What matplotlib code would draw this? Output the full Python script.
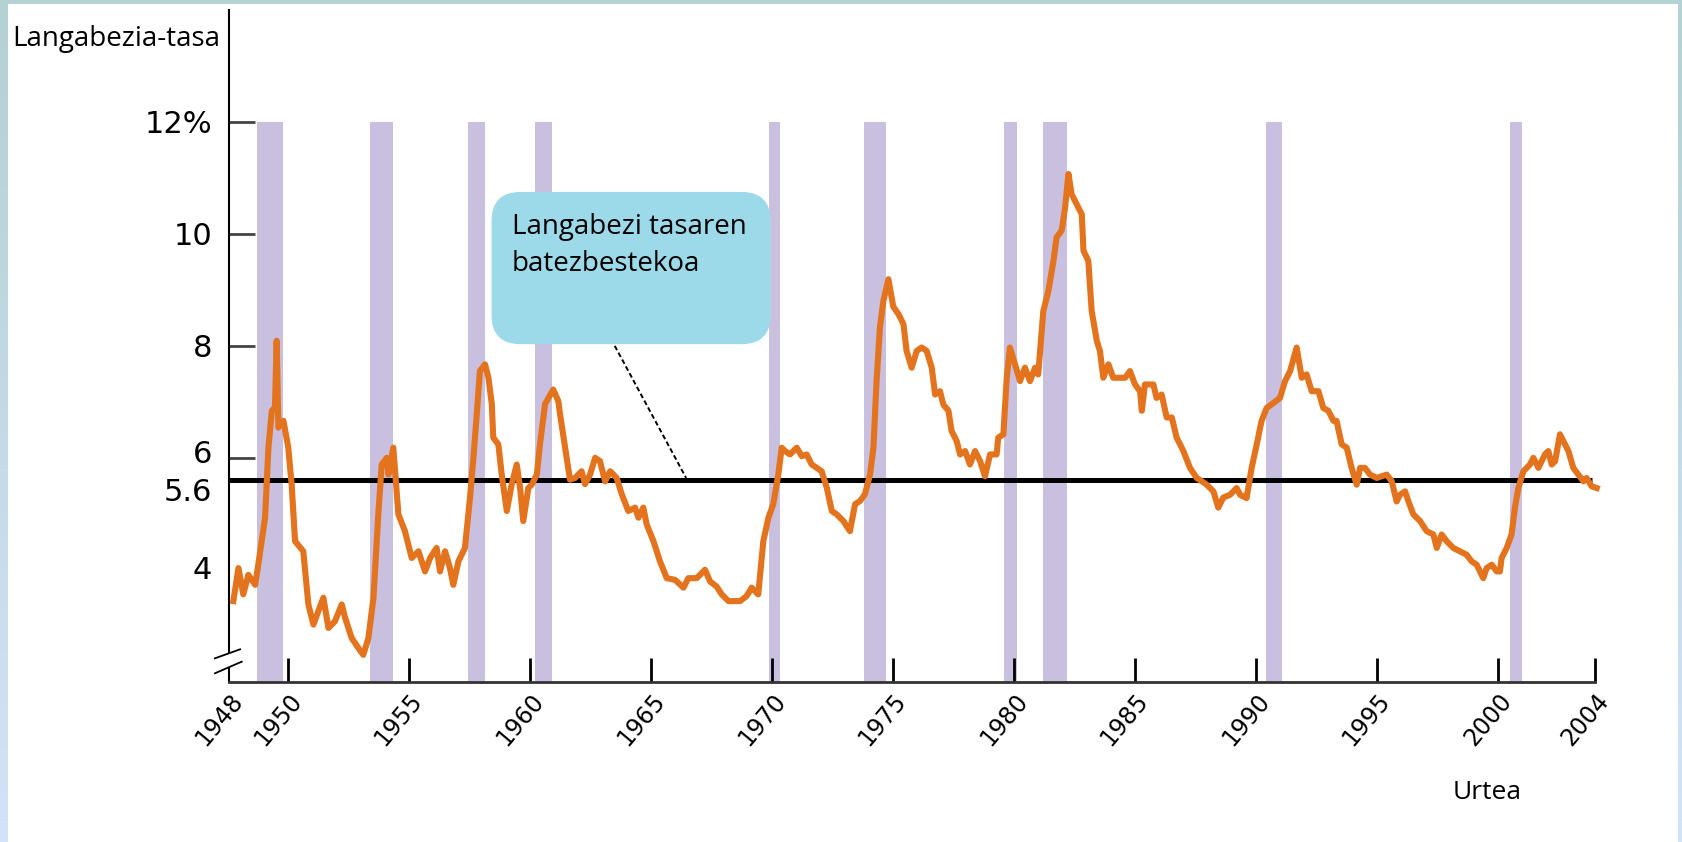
import numpy as np
import matplotlib
matplotlib.use("Agg")
import matplotlib.pyplot as plt
from matplotlib.patches import FancyBboxPatch, Rectangle, Polygon
from matplotlib.transforms import ScaledTranslation

# unemployment rate, (year, rate %)
rate_1948_61 = [
    (1947.74, 3.44), (1947.95, 4.03), (1948.15, 3.56), (1948.36, 3.91), (1948.64, 3.73),
    (1948.77, 4.09), (1949.05, 4.93), (1949.19, 6.18), (1949.33, 6.84), (1949.46, 6.90),
    (1949.53, 8.09), (1949.60, 6.54), (1949.81, 6.66), (1950.01, 6.18), (1950.15, 5.52),
    (1950.29, 4.51), (1950.63, 4.33), (1950.84, 3.38), (1951.05, 3.02), (1951.25, 3.26),
    (1951.46, 3.50), (1951.67, 2.96), (1951.94, 3.08), (1952.22, 3.38), (1952.36, 3.14),
    (1952.63, 2.78), (1952.91, 2.60), (1953.11, 2.48), (1953.32, 2.78), (1953.53, 3.50),
    (1953.73, 4.99), (1953.87, 5.88), (1954.08, 6.00), (1954.15, 5.70), (1954.35, 6.18),
    (1954.56, 4.99), (1954.83, 4.69), (1955.11, 4.21), (1955.39, 4.33), (1955.66, 3.97),
    (1955.87, 4.21), (1956.14, 4.39), (1956.28, 3.97), (1956.49, 4.33), (1956.69, 4.03),
    (1956.83, 3.73), (1957.04, 4.15), (1957.31, 4.39), (1957.52, 5.29), (1957.66, 6.00),
    (1957.80, 6.78), (1957.93, 7.55), (1958.14, 7.67), (1958.28, 7.43), (1958.42, 6.96),
    (1958.48, 6.36), (1958.69, 6.24), (1958.83, 5.70), (1959.04, 5.05), (1959.24, 5.52),
    (1959.45, 5.88), (1959.59, 5.46), (1959.72, 4.87), (1959.93, 5.46), (1960.07, 5.52),
    (1960.28, 5.70), (1960.41, 6.24), (1960.62, 6.96), (1960.96, 7.22), (1961.17, 7.01),
]
rate_1961_75 = [
    (1961.24, 6.78), (1961.45, 6.18), (1961.65, 5.61), (1961.86, 5.64), (1962.13, 5.76),
    (1962.27, 5.53), (1962.48, 5.70), (1962.69, 6.00), (1962.89, 5.94), (1963.10, 5.58),
    (1963.31, 5.76), (1963.58, 5.64), (1963.79, 5.35), (1964.06, 5.05), (1964.34, 5.11),
    (1964.48, 4.93), (1964.68, 5.11), (1964.82, 4.81), (1965.10, 4.51), (1965.37, 4.15),
    (1965.65, 3.85), (1965.99, 3.82), (1966.34, 3.68), (1966.54, 3.85), (1966.89, 3.85),
    (1967.23, 4.00), (1967.44, 3.79), (1967.71, 3.70), (1967.92, 3.56), (1968.20, 3.44),
    (1968.68, 3.44), (1968.95, 3.53), (1969.16, 3.68), (1969.43, 3.56), (1969.64, 4.51),
    (1969.85, 4.93), (1970.05, 5.17), (1970.26, 5.70), (1970.40, 6.18), (1970.54, 6.12),
    (1970.74, 6.06), (1971.02, 6.18), (1971.23, 6.03), (1971.43, 6.06), (1971.64, 5.88),
    (1971.85, 5.82), (1972.05, 5.76), (1972.26, 5.47), (1972.47, 5.05), (1972.67, 4.99),
    (1972.95, 4.87), (1973.22, 4.69), (1973.43, 5.17), (1973.64, 5.23), (1973.84, 5.35),
    (1974.05, 5.70), (1974.19, 6.18), (1974.32, 7.37), (1974.46, 8.33), (1974.60, 8.80),
    (1974.81, 9.19),
]
rate_1975_89 = [
    (1975.01, 8.70), (1975.22, 8.57), (1975.43, 8.39), (1975.56, 7.91), (1975.77, 7.61),
    (1975.98, 7.91), (1976.18, 7.97), (1976.39, 7.91), (1976.60, 7.61), (1976.74, 7.13),
    (1976.94, 7.19), (1977.08, 6.95), (1977.29, 6.84), (1977.42, 6.48), (1977.63, 6.30),
    (1977.77, 6.06), (1977.98, 6.12), (1978.18, 5.88), (1978.39, 6.12), (1978.60, 5.94),
    (1978.80, 5.67), (1979.01, 6.06), (1979.28, 6.06), (1979.35, 6.36), (1979.56, 6.42),
    (1979.70, 7.43), (1979.83, 7.97), (1980.04, 7.67), (1980.25, 7.37), (1980.45, 7.61),
    (1980.66, 7.37), (1980.87, 7.61), (1981.00, 7.49), (1981.21, 8.62), (1981.42, 8.98),
    (1981.63, 9.52), (1981.76, 9.94), (1981.97, 10.06), (1982.11, 10.47), (1982.25, 11.07),
    (1982.38, 10.71), (1982.59, 10.53), (1982.80, 10.35), (1982.87, 9.70), (1983.07, 9.52),
    (1983.21, 8.62), (1983.42, 8.09), (1983.55, 7.91), (1983.69, 7.43), (1983.90, 7.67),
    (1984.10, 7.43), (1984.38, 7.43), (1984.59, 7.43), (1984.79, 7.55), (1985.00, 7.31),
    (1985.21, 7.19), (1985.28, 6.84), (1985.41, 7.31), (1985.76, 7.31), (1985.89, 7.07),
    (1986.10, 7.13), (1986.31, 6.72), (1986.52, 6.72), (1986.72, 6.36), (1987.00, 6.12),
    (1987.27, 5.82), (1987.55, 5.64), (1987.76, 5.58), (1987.96, 5.52), (1988.24, 5.40),
    (1988.44, 5.11), (1988.65, 5.29), (1988.93, 5.34), (1989.20, 5.46),
]
rate_1989_04 = [
    (1989.34, 5.34), (1989.61, 5.28), (1989.82, 5.82), (1990.03, 6.24), (1990.23, 6.66),
    (1990.44, 6.89), (1990.72, 6.98), (1990.99, 7.07), (1991.20, 7.37), (1991.41, 7.55),
    (1991.68, 7.97), (1991.89, 7.43), (1992.09, 7.49), (1992.30, 7.19), (1992.58, 7.19),
    (1992.78, 6.89), (1992.99, 6.84), (1993.20, 6.66), (1993.33, 6.66), (1993.54, 6.24),
    (1993.75, 6.18), (1993.95, 5.82), (1994.16, 5.52), (1994.30, 5.82), (1994.50, 5.82),
    (1994.71, 5.70), (1994.99, 5.64), (1995.40, 5.70), (1995.61, 5.58), (1995.81, 5.22),
    (1995.95, 5.34), (1996.16, 5.40), (1996.30, 5.22), (1996.50, 4.99), (1996.78, 4.87),
    (1997.05, 4.69), (1997.33, 4.63), (1997.47, 4.39), (1997.67, 4.63), (1997.88, 4.51),
    (1998.15, 4.39), (1998.43, 4.33), (1998.70, 4.27), (1998.91, 4.15), (1999.12, 4.09),
    (1999.39, 3.85), (1999.53, 4.03), (1999.74, 4.09), (1999.95, 3.97), (2000.08, 3.97),
    (2000.15, 4.21), (2000.36, 4.39), (2000.56, 4.63), (2000.70, 5.11), (2000.84, 5.46),
    (2001.05, 5.76), (2001.32, 5.88), (2001.46, 6.00), (2001.67, 5.82), (2001.94, 6.06),
    (2002.08, 6.12), (2002.22, 5.88), (2002.36, 5.94), (2002.56, 6.42), (2002.77, 6.24),
    (2002.91, 6.12), (2003.11, 5.82), (2003.32, 5.70), (2003.53, 5.58), (2003.66, 5.64),
    (2003.87, 5.49), (2004.08, 5.46),
]

# recession bands (start, end) as drawn
rec_start = [1948.73, 1953.38, 1957.43, 1960.20, 1969.88, 1973.80, 1979.60, 1981.20, 1990.40, 2000.50]
rec_end = [1949.78, 1954.34, 1958.15, 1960.92, 1970.34, 1974.70, 1980.12, 1982.20, 1991.07, 2000.98]

mean_rate = 5.6
ytick_vals = [4, 5.6, 6, 8, 10, 12]
ytick_labels = ["4", "5.6", "6", "8", "10", "12%"]
xtick_years = [1950, 1955, 1960, 1965, 1970, 1975, 1980, 1985, 1990, 1995, 2000, 2004]
first_label = "1948"

W, H = 1683, 842
fig = plt.figure(figsize=(W / 100, H / 100), dpi=100)

# frame: gradient border + white page
bg = fig.add_axes([0, 0, 1, 1])
grad = np.linspace(0, 1, 256).reshape(-1, 1)
cmap = matplotlib.colors.LinearSegmentedColormap.from_list("frame", ["#b4d1d3", "#d3e3f8"])
bg.imshow(grad, aspect="auto", cmap=cmap, extent=[0, 1, 0, 1])
bg.add_patch(Rectangle((8 / W, 0), (1678 - 8) / W, (H - 4) / H, color="white", lw=0))
bg.set_xlim(0, 1)
bg.set_ylim(0, 1)
bg.axis("off")

x0, x1 = 1947.56, 2004
ax = fig.add_axes([229 / W, (H - 681.7) / H, 1365.8 / W, 671.7 / H])
ax.set_facecolor("none")
ax.set_xlim(x0, x1)
ax.set_ylim(2, 14)

for s, e in zip(rec_start, rec_end):
    ax.axvspan(s, e, ymin=0, ymax=(12 - 2) / (14 - 2), color="#c9bfdf", lw=0, zorder=1)

ax.hlines(mean_rate, x0, 2003.9, color="black", lw=3.6, zorder=3)

pts = rate_1948_61 + rate_1961_75 + rate_1975_89 + rate_1989_04
years = [p[0] for p in pts]
rates = [p[1] for p in pts]
ax.plot(years, rates, color="#e4731e", lw=4.4, zorder=4, clip_on=False)

# callout box
asp = 24.2 / 55.9
box = FancyBboxPatch((1958.41, 8.03), 1969.94 - 1958.41, 10.75 - 8.03,
                     boxstyle="round,pad=0,rounding_size=1.2", mutation_aspect=asp,
                     fc="#9cd9e9", ec="none", zorder=5)
ax.add_patch(box)
ax.plot([1963.5, 1966.45], [8.0, 5.64], color="black", lw=1.4, ls=(0, (2.5, 1.5)), zorder=5)
ax.text(1959.24, 10.0, "Langabezi tasaren", family="Open Sans", fontsize=20, va="baseline", ha="left", zorder=6)
ax.text(1959.24, 9.33, "batezbestekoa", family="Open Sans", fontsize=20, va="baseline", ha="left", zorder=6)

# axes styling
for side in ["top", "right"]:
    ax.spines[side].set_visible(False)
ax.spines["left"].set_linewidth(1.5)
ax.spines["bottom"].set_linewidth(2)
ax.spines["bottom"].set_color("#333333")

ax.set_yticks(ytick_vals)
ax.set_yticklabels(ytick_labels)
ax.tick_params(axis="y", direction="in", length=19, width=2, color="#444444", pad=12, labelsize=22)
for t in ax.yaxis.get_major_ticks():
    if t.get_loc() in (4, 5.6):
        t.tick1line.set_visible(False)
shift = {"5.6": -9, "6": 6, "4": 2}
for lab in ax.get_yticklabels():
    dy = shift.get(lab.get_text(), 0)
    if dy:
        lab.set_transform(lab.get_transform() + ScaledTranslation(0, dy / 100, fig.dpi_scale_trans))

ax.set_xticks([x0] + xtick_years)
ax.set_xticklabels([first_label] + [str(y) for y in xtick_years])
ax.tick_params(axis="x", direction="in", length=17, width=2, color="black", pad=5, labelsize=17)
ax.xaxis.get_major_ticks()[0].tick1line.set_visible(False)
for lab in ax.get_xticklabels():
    lab.set_rotation(50)
    lab.set_ha("right")
    lab.set_va("top")
    lab.set_rotation_mode("anchor")

# axis break marks (gap in the spine between two strokes)
gap = Polygon([(-0.0103, 0.0348), (0.0081, 0.0482), (0.0093, 0.0298), (-0.0103, 0.0125)],
              closed=True, transform=ax.transAxes, fc="white", ec="none", clip_on=False, zorder=5)
ax.add_patch(gap)
ax.plot([-0.0103, 0.0081], [0.0348, 0.0482], transform=ax.transAxes,
        color="black", lw=1.3, clip_on=False, zorder=6)
ax.plot([-0.0103, 0.0093], [0.0125, 0.0298], transform=ax.transAxes,
        color="black", lw=1.3, clip_on=False, zorder=6)

fig.text(12 / W, 1 - 46 / H, "Langabezia-tasa", family="Open Sans", fontsize=20, va="baseline", ha="left")
fig.text(1453 / W, 1 - 799 / H, "Urtea", family="Open Sans", fontsize=19, va="baseline", ha="left")

fig.savefig("out.png", dpi=100)
